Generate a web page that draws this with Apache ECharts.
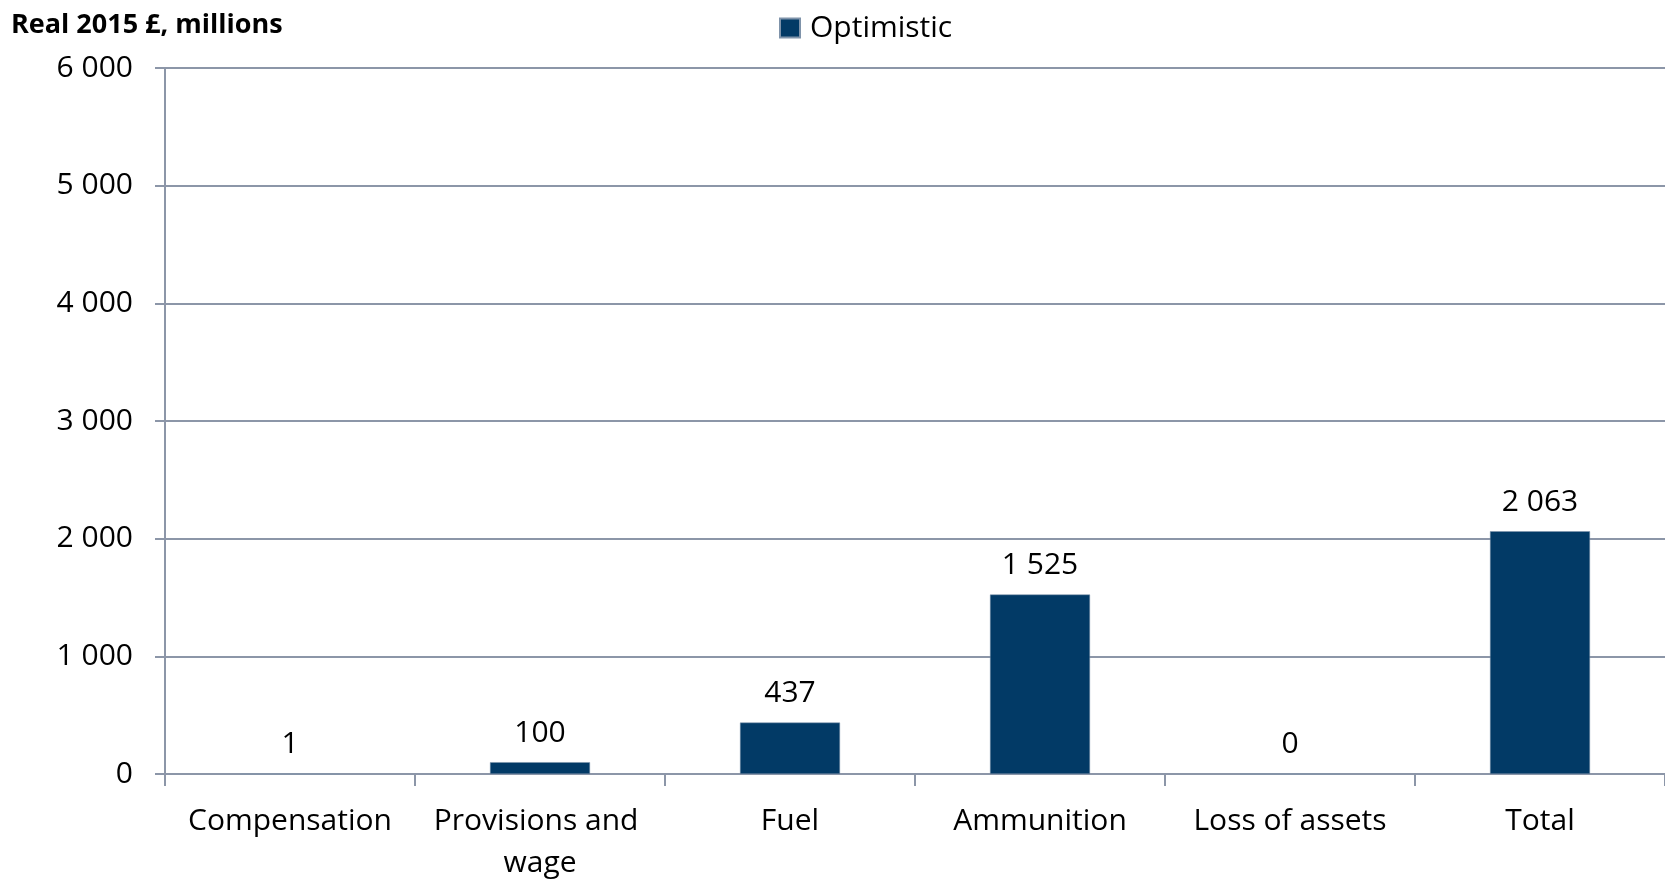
<!DOCTYPE html>
<html>
<head>
<meta charset="utf-8">
<script src="https://cdn.jsdelivr.net/npm/echarts@6/dist/echarts.min.js"></script>
<style>html,body{margin:0;padding:0;background:#fff}#c{width:1665px;height:884px}</style>
</head>
<body>
<div id="c"></div>
<script>
var categories = ["Compensation", "Provisions and wage", "Fuel", "Ammunition", "Loss of assets", "Total"];
var optimistic = [1, 100, 437, 1525, 0, 2063];
var seriesName = "Optimistic";
var yTitle = "Real 2015 £, millions";

function fmt(v) {
  return String(v).replace(/\B(?=(\d{3})+(?!\d))/g, " ");
}

var FONT = "Open Sans";
var chart = echarts.init(document.getElementById('c'));
chart.setOption({
  animation: false,
  backgroundColor: '#fff',
  textStyle: { fontFamily: FONT, color: '#000' },
  title: {
    text: yTitle, left: 11, top: 12, padding: 0,
    textStyle: { fontFamily: FONT, fontWeight: 'bold', fontSize: 27, lineHeight: 27, color: '#000' }
  },
  legend: {
    data: [seriesName], left: 774, top: 8,
    itemWidth: 20, itemHeight: 19, icon: 'rect',
    textStyle: { fontFamily: FONT, fontSize: 30, lineHeight: 30, color: '#000', padding: [0, 0, 0, 5] }
  },
  grid: { left: 165, width: 1512, top: 68, bottom: 104, containLabel: false },
  xAxis: {
    type: 'category', data: categories,
    axisLine: { lineStyle: { color: '#8c96a8', width: 2 } },
    axisTick: { show: true, length: 12, lineStyle: { color: '#8c96a8', width: 2 } },
    axisLabel: {
      fontFamily: FONT, fontSize: 30, color: '#000', margin: 26,
      width: 240, overflow: 'break', lineHeight: 42, interval: 0
    }
  },
  yAxis: {
    type: 'value', min: 0, max: 6000, interval: 1000,
    axisLine: { show: true, lineStyle: { color: '#8c96a8', width: 2 } },
    axisTick: { show: true, length: 10, lineStyle: { color: '#8c96a8', width: 2 } },
    splitLine: { lineStyle: { color: '#8c96a8', width: 2 } },
    axisLabel: { fontFamily: FONT, fontSize: 30, color: '#000', margin: 32, formatter: fmt }
  },
  series: [{
    name: seriesName, type: 'bar', data: optimistic, barWidth: '40%',
    itemStyle: { color: '#023a66', borderColor: '#7f93aa', borderWidth: 0.5 },
    label: {
      show: true, position: 'top', distance: 14, lineHeight: 30,
      fontFamily: FONT, fontSize: 30, color: '#000',
      formatter: function (p) { return fmt(p.value); }
    }
  }]
});
</script>
</body>
</html>
